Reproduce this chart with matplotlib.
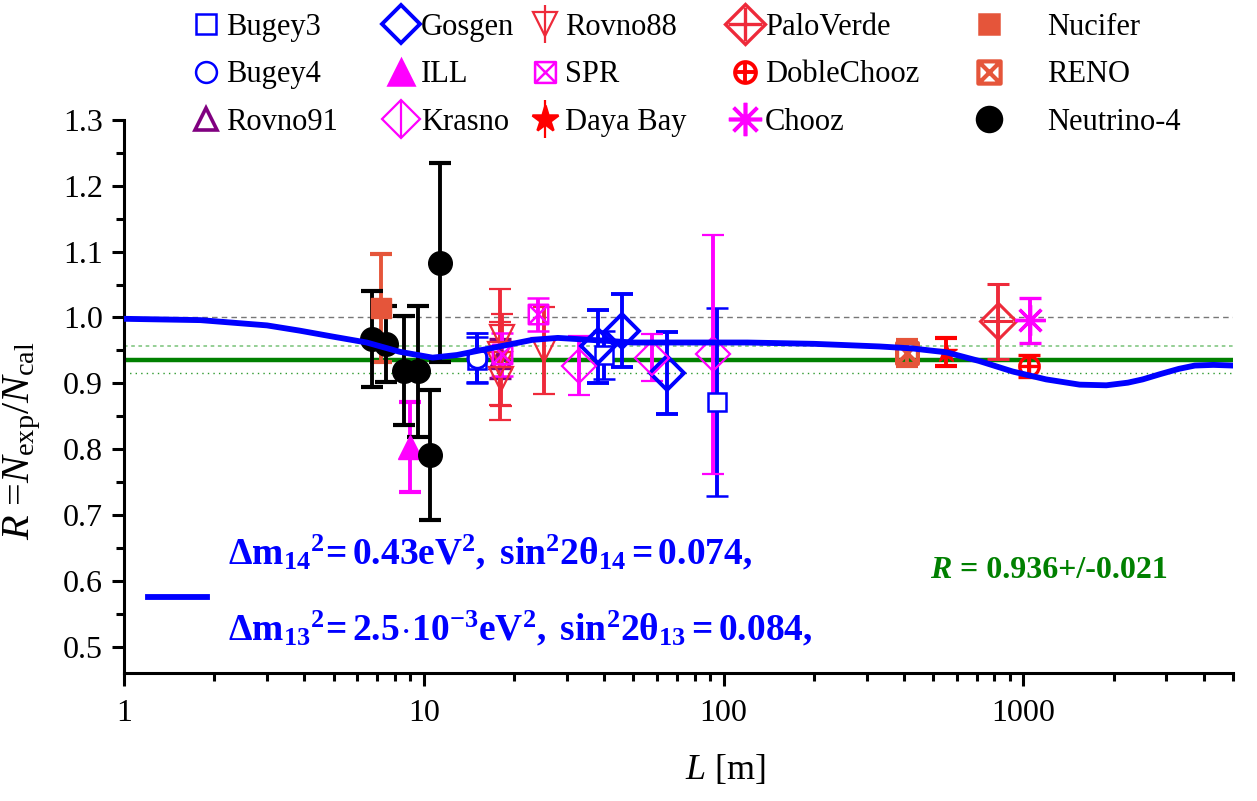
import numpy as np
import matplotlib
matplotlib.use('Agg')
import matplotlib.pyplot as plt
from matplotlib.lines import Line2D
from matplotlib.path import Path
from matplotlib.ticker import FixedLocator, NullFormatter, MultipleLocator

plt.rcParams['font.family'] = 'Liberation Serif'
plt.rcParams['mathtext.fontset'] = 'custom'
plt.rcParams['mathtext.rm'] = 'Liberation Serif'
plt.rcParams['mathtext.it'] = 'Liberation Serif:italic'
plt.rcParams['mathtext.bf'] = 'Liberation Serif:bold'

# data: baseline L [m], ratio R, error
bugey3_L = [15.0, 40.0, 95.0]
bugey3_R = [0.935, 0.943, 0.872]
bugey3_e = [0.035, 0.036, 0.143]

bugey4_L = [15.0]
bugey4_R = [0.939]
bugey4_e = [0.037]

rovno91_L = [18.0]
rovno91_R = [0.938]
rovno91_e = [0.030]

gosgen_L = [38.0, 45.9, 64.7]
gosgen_R = [0.956, 0.980, 0.916]
gosgen_e = [0.055, 0.055, 0.062]

ill_L = [9.0]
ill_R = [0.803]
ill_e = [0.068]

krasno_L = [33.0, 57.5, 92.0]
krasno_R = [0.927, 0.939, 0.944]
krasno_e = [0.045, 0.036, 0.181]

rovno88_L = [18.0, 18.2, 18.1, 17.9, 25.2]
rovno88_R = [0.944, 0.971, 0.906, 0.930, 0.950]
rovno88_e = [0.099, 0.034, 0.041, 0.063, 0.066]

spr_L = [18.2, 24.0]
spr_R = [0.944, 1.005]
spr_e = [0.033, 0.025]

dayabay_L = [550.0]
dayabay_R = [0.948]
dayabay_e = [0.021]

paloverde_L = [820.0]
paloverde_R = [0.994]
paloverde_e = [0.057]

doublechooz_L = [1045.0]
doublechooz_R = [0.926]
doublechooz_e = [0.017]

chooz_L = [1050.0]
chooz_R = [0.996]
chooz_e = [0.034]

nucifer_L = [7.2]
nucifer_R = [1.014]
nucifer_e = [0.082]

reno_L = [410.0]
reno_R = [0.946]
reno_e = [0.020]

n4_L = [6.7, 7.5, 8.6, 9.55, 10.5, 11.3]
n4_R = [0.968, 0.960, 0.919, 0.918, 0.791, 1.083]
n4_e = [0.073, 0.058, 0.083, 0.099, 0.099, 0.151]

# fitted curve
curve_L = [1.0, 1.8, 3.0, 3.86, 4.97, 6.45, 8.3, 10.7, 12.9, 15, 17.9, 23, 28, 36, 50,
           120, 200, 331, 426, 555, 711, 920, 1190, 1540, 1890, 2230, 2500, 2860, 3300,
           3730, 4300, 5000]
curve_R = [0.998, 0.996, 0.988, 0.980, 0.971, 0.962, 0.948, 0.939, 0.943, 0.949, 0.956, 0.966,
           0.969, 0.966, 0.962, 0.962, 0.960, 0.956, 0.953, 0.947, 0.934, 0.918, 0.906, 0.898,
           0.897, 0.901, 0.906, 0.914, 0.922, 0.927, 0.928, 0.927]

R_mean = 0.936
R_err = 0.021

BLUE = '#0000FF'
MAG = '#FF00FF'
RED1 = '#EE2A3A'
RED2 = '#FF0000'
ORG = '#E5553A'
PURP = '#800080'
GREEN = '#008000'

# open square with a cross inside
boxx = Path([(-1, -1), (1, -1), (1, 1), (-1, 1), (-1, -1), (-1, -1), (1, 1), (-1, 1), (1, -1)],
            [Path.MOVETO, Path.LINETO, Path.LINETO, Path.LINETO, Path.CLOSEPOLY,
             Path.MOVETO, Path.LINETO, Path.MOVETO, Path.LINETO])

fig = plt.figure(figsize=(12.57, 8.01), dpi=100)
ax = fig.add_axes([0.0986, 0.1598, 0.8823, 0.6904])

ax.axhline(1.0, color='#777777', lw=1.0, ls=(0, (4, 3)), zorder=1)
ax.axhline(R_mean + R_err, color='#8CCB8C', lw=1.3, ls=(0, (2, 2)), zorder=1)
ax.axhline(R_mean - R_err, color='#2E9A2E', lw=1.0, ls=(0, (1, 3)), zorder=1)
ax.axhline(R_mean, color=GREEN, lw=3.2, zorder=2)

ekw = dict(ls='none', elinewidth=2.8, capsize=8, capthick=3.0, zorder=4)

ax.errorbar(bugey3_L, bugey3_R, yerr=bugey3_e, marker='s', ms=13, mfc='white', mec=BLUE,
            mew=1.8, color=BLUE, **ekw)
ax.errorbar(bugey4_L, bugey4_R, yerr=bugey4_e, marker='o', ms=14, mfc='none', mec=BLUE,
            mew=2.0, color=BLUE, **ekw)
ax.errorbar(rovno91_L, rovno91_R, yerr=rovno91_e, marker='^', ms=14, mfc='none', mec=PURP,
            mew=2.4, color=PURP, **ekw)
ax.errorbar(gosgen_L, gosgen_R, yerr=gosgen_e, marker='D', ms=17, mfc='none', mec=BLUE,
            mew=2.8, color=BLUE, **ekw)
ax.errorbar(ill_L, ill_R, yerr=ill_e, marker='^', ms=17, mfc=MAG, mec=MAG,
            color=MAG, **ekw)
ax.errorbar(krasno_L, krasno_R, yerr=krasno_e, marker='D', ms=17, mfc='none', mec=MAG,
            mew=1.6, color=MAG, **ekw)
ax.errorbar(rovno88_L, rovno88_R, yerr=rovno88_e, marker='v', ms=17, mfc='none', mec=RED1,
            mew=1.6, color=RED1, **ekw)
ax.errorbar(spr_L, spr_R, yerr=spr_e, marker=boxx, ms=14, mfc='none', mec=MAG, mew=1.8,
            color=MAG, **ekw)
ax.errorbar(dayabay_L, dayabay_R, yerr=dayabay_e, marker='*', ms=16, mfc=RED2, mec=RED2,
            color=RED2, **ekw)
ax.errorbar(paloverde_L, paloverde_R, yerr=paloverde_e, marker='D', ms=18, mfc='none',
            mec=RED1, mew=2.2, color=RED1, **ekw)
ax.plot(paloverde_L, paloverde_R, ls='none', marker='+', ms=22, mec=RED1, mew=2.2, zorder=5)
ax.errorbar(doublechooz_L, doublechooz_R, yerr=doublechooz_e, marker='o', ms=14, mfc='none',
            mec=RED2, mew=2.4, color=RED2, **ekw)
ax.plot(doublechooz_L, doublechooz_R, ls='none', marker='+', ms=14, mec=RED2, mew=2.4, zorder=5)
ax.errorbar(chooz_L, chooz_R, yerr=chooz_e, marker=(8, 2, 0), ms=22, mec=MAG, mew=2.4,
            color=MAG, **ekw)
ax.errorbar(nucifer_L, nucifer_R, yerr=nucifer_e, marker='s', ms=14, mfc=ORG, mec=ORG,
            color=ORG, **ekw)
ax.errorbar(reno_L, reno_R, yerr=reno_e, marker=boxx, ms=15, mfc='none', mec=ORG, mew=3.0,
            color=ORG, **ekw)
ax.errorbar(n4_L, n4_R, yerr=n4_e, marker='o', ms=17, mfc='black', mec='black',
            color='black', **ekw)

ax.plot(curve_L, curve_R, color=BLUE, lw=4.2, solid_capstyle='round', solid_joinstyle='round',
        zorder=6)

ax.set_xscale('log')
ax.set_xlim(1, 5000)
ax.set_ylim(0.46, 1.3)
ax.spines['top'].set_visible(False)
ax.spines['right'].set_visible(False)
ax.spines['left'].set_linewidth(2.2)
ax.spines['bottom'].set_linewidth(2.2)

ax.xaxis.set_major_locator(FixedLocator([1, 10, 100, 1000]))
ax.set_xticklabels(['1', '10', '100', '1000'])
minor = [m * 10 ** k for k in range(4) for m in range(2, 10) if m * 10 ** k <= 5000]
ax.xaxis.set_minor_locator(FixedLocator(minor))
ax.xaxis.set_minor_formatter(NullFormatter())
ax.yaxis.set_minor_locator(MultipleLocator(0.05))
ax.set_yticks(np.arange(0.5, 1.31, 0.1))
ax.set_yticklabels(['%.1f' % v for v in np.arange(0.5, 1.31, 0.1)])
ax.tick_params(which='major', direction='out', length=9, width=2.2, labelsize=23, pad=6)
ax.tick_params(which='minor', direction='out', length=6, width=2.2)
ax.tick_params(axis='x', which='major', pad=10)

ax.set_xlabel(r'$L$ [m]', fontsize=26)
ax.xaxis.set_label_coords(0.542, -0.145)
ax.set_ylabel(r'$R$ =$N_{\rm exp}$/$N_{\rm cal}$', fontsize=29)
ax.yaxis.set_label_coords(-0.073, 0.42)

# curve key and parameters
ax.plot([0.022, 0.075], [0.137, 0.137], transform=ax.transAxes, color=BLUE, lw=4.2, zorder=6)
ax.text(0.094, 0.197, r'$\mathbf{\Delta m_{14}{}^{2}\!= 0.43eV^{2},\ sin^{2}2\theta_{14}= 0.074,}$',
        transform=ax.transAxes, color=BLUE, fontsize=27, ha='left', va='baseline')
ax.text(0.094, 0.058, r'$\mathbf{\Delta m_{13}{}^{2}\!= 2.5\!\cdot\!10^{-3}eV^{2},\ sin^{2}2\theta_{13}= 0.084,}$',
        transform=ax.transAxes, color=BLUE, fontsize=27, ha='left', va='baseline')
tR = ax.text(0.727, 0.172, 'R', transform=ax.transAxes, color=GREEN, fontsize=23,
             fontweight='bold', fontstyle='italic', ha='left', va='baseline')
ax.annotate(' = 0.936+/-0.021', xy=(1, 0), xycoords=tR, color=GREEN, fontsize=23,
            fontweight='bold', ha='left', va='bottom')

# legend in five columns
def mk(marker, color, fill=False, ms=12, mew=1.8):
    return Line2D([], [], ls='none', marker=marker, ms=ms, mec=color,
                  mfc=color if fill else 'none', mew=mew)

def bar(color):
    return Line2D([], [], ls='none', marker='|', ms=28, mec=color, mew=1.6)

cols = [
    [(mk('s', BLUE, ms=14), 'Bugey3'), (mk('o', BLUE, ms=15), 'Bugey4'),
     (mk('^', PURP, ms=16, mew=2.6), 'Rovno91')],
    [(mk('D', BLUE, ms=19, mew=2.8), 'Gosgen'), (mk('^', MAG, True, ms=19), 'ILL'),
     ((bar(MAG), mk('D', MAG, ms=19, mew=1.6)), 'Krasno')],
    [((bar(RED1), mk('v', RED1, ms=17, mew=1.6)), 'Rovno88'),
     (mk(boxx, MAG, ms=15, mew=1.8), 'SPR'),
     ((bar(RED2), mk('*', RED2, True, ms=20)), 'Daya Bay')],
    [((mk('D', RED1, ms=20, mew=2.4), mk('+', RED1, ms=24, mew=2.4)), 'PaloVerde'),
     ((mk('o', RED2, ms=15, mew=2.8), mk('+', RED2, ms=15, mew=2.8)), 'DobleChooz'),
     (mk((8, 2, 0), MAG, ms=24, mew=2.6), 'Chooz')],
    [(mk('s', ORG, True, ms=15), 'Nucifer'), (mk(boxx, ORG, ms=16, mew=3.0), 'RENO'),
     (mk('o', 'black', True, ms=18), 'Neutrino-4')],
]
col_x = [194, 389, 533, 733, 977]
col_pad = [0.25, 0.25, 0.25, 0.25, 1.5]
for (entries, x0, pad) in zip(cols, col_x, col_pad):
    fig.legend([e[0] for e in entries], [e[1] for e in entries],
               loc='upper left', bbox_to_anchor=(x0 / 1257, 1 - 13 / 801),
               frameon=False, fontsize=22, handlelength=0.8, handletextpad=pad,
               labelspacing=0.6, borderpad=0, borderaxespad=0)

fig.savefig('out.png', dpi=100)
